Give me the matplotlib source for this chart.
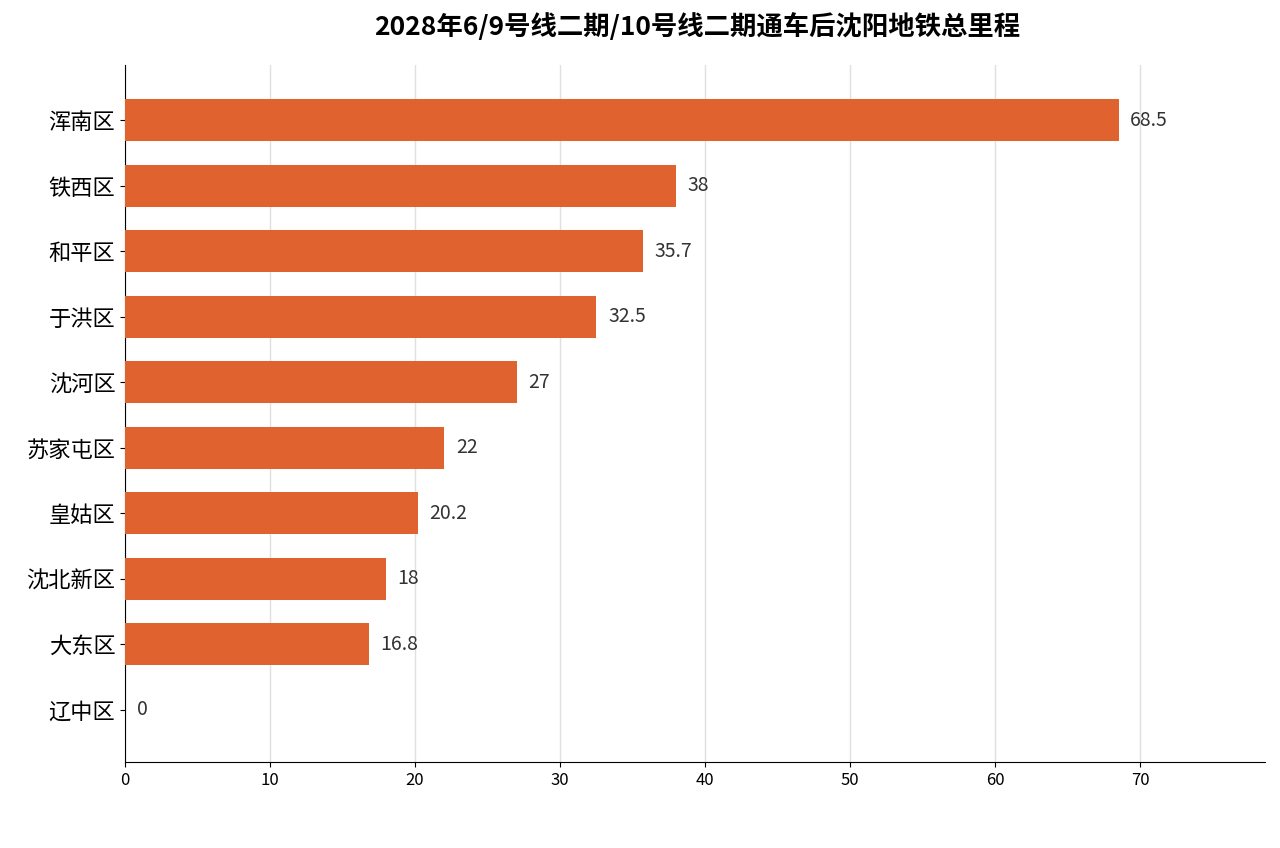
import matplotlib.pyplot as plt

plt.rcParams['font.family'] = ['Noto Sans CJK SC', 'DejaVu Sans']

districts = ['浑南区', '铁西区', '和平区', '于洪区', '沈河区', '苏家屯区', '皇姑区', '沈北新区', '大东区', '辽中区']
mileage = [68.5, 38, 35.7, 32.5, 27, 22, 20.2, 18, 16.8, 0]
value_labels = ['68.5', '38', '35.7', '32.5', '27', '22', '20.2', '18', '16.8', '0']

fig = plt.figure(figsize=(12.8, 8.48), dpi=100)
ax = fig.add_axes([0.0977, 0.1014, 0.8906, 0.8216])

ys = range(len(districts))
ax.barh(ys, mileage, height=0.64, color='#E0622F', zorder=3)
for y, v, s in zip(ys, mileage, value_labels):
    ax.text(v + 0.8, y, s, va='center', ha='left', fontsize=14, color='#333333')

ax.set_yticks(list(ys))
ax.set_yticklabels(districts, fontsize=16)
ax.set_ylim(9.8, -0.84)
ax.set_xlim(0, 78.6)
ax.set_xticks(range(0, 80, 10))
ax.tick_params(axis='x', labelsize=12)
ax.grid(axis='x', color='#e0e0e0', linewidth=1, zorder=0)
for side in ['top', 'right']:
    ax.spines[side].set_visible(False)

fig.suptitle('2028年6/9号线二期/10号线二期通车后沈阳地铁总里程', fontsize=19,
             fontweight='bold', x=0.545, y=0.985)

fig.savefig('out.png', dpi=100)
